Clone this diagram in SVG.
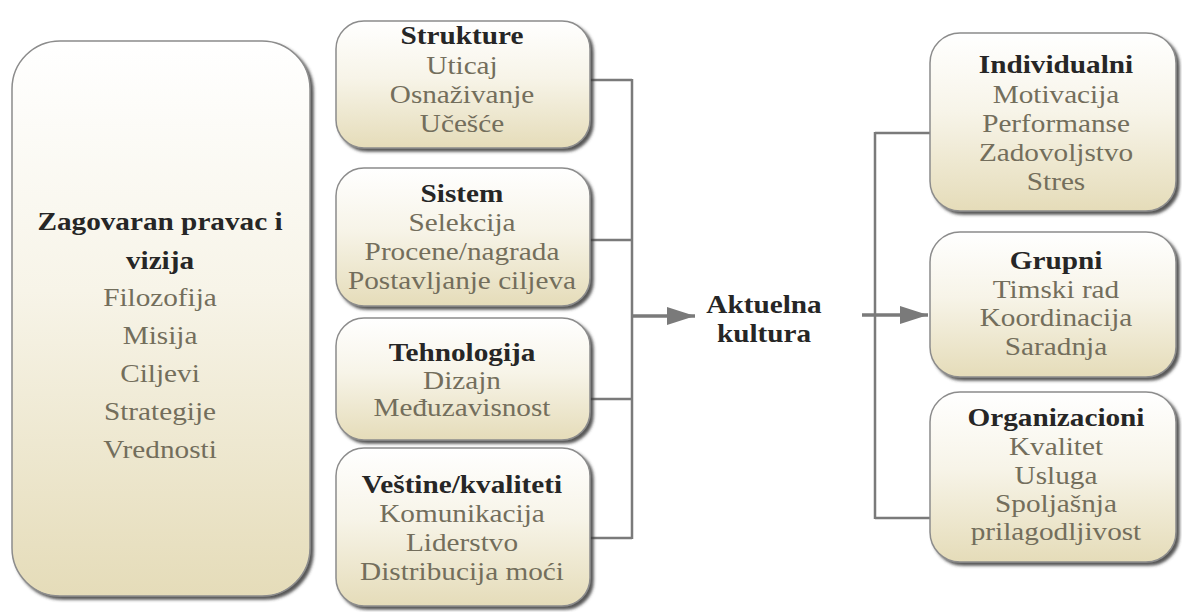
<svg xmlns="http://www.w3.org/2000/svg" width="1182" height="612" viewBox="0 0 1182 612">
  <defs>
    <linearGradient id="boxFill" x1="0" y1="0" x2="0" y2="1">
      <stop offset="0" stop-color="#ffffff"/>
      <stop offset="0.45" stop-color="#f7f4e8"/>
      <stop offset="1" stop-color="#e5dcb9"/>
    </linearGradient>
    <filter id="shadow" x="-10%" y="-10%" width="125%" height="125%">
      <feDropShadow dx="3" dy="3" stdDeviation="1.4" flood-color="#3a3a3a" flood-opacity="0.85"/>
    </filter>
    <marker id="arrow" viewBox="0 0 10 10" refX="10" refY="5" markerWidth="9" markerHeight="7" markerUnits="userSpaceOnUse" orient="auto">
      <path d="M0,0 L10,5 L0,10 z" fill="#7a7a7a"/>
    </marker>
    <marker id="head" viewBox="0 0 28 20" refX="28" refY="10" markerWidth="28" markerHeight="20" markerUnits="userSpaceOnUse" orient="auto">
      <path d="M0,1 L28,10 L0,19 z" fill="#7a7a7a"/>
    </marker>
  </defs>
  <style>
    .box { fill: url(#boxFill); stroke: #8c8c8c; stroke-width: 1.5; filter: url(#shadow); }
    text { font-family: "Liberation Serif", "Times New Roman", serif; font-size: 25px; text-anchor: middle; }
    .title { font-weight: bold; fill: #262626; }
    .item { fill: #736e5c; }
    .link { fill: none; stroke: #7a7a7a; stroke-width: 2.5; }
    .arrowline { fill: none; stroke: #7a7a7a; stroke-width: 3.5; marker-end: url(#head); }
  </style>

  <rect width="1182" height="612" fill="#ffffff"/>

  <!-- connectors -->
  <g id="connectors">
    <path class="link" d="M590,80 H632 M590,240 H632 M590,399 H632 M590,538 H632 M632,79 V539"/>
    <path class="arrowline" d="M632,316 H695"/>
    <path class="link" d="M875,133 H930 M875,518 H932 M875,132 V519"/>
    <path class="arrowline" d="M862,315 H928"/>
  </g>

  <!-- left column -->
  <g id="node-vizija">
    <rect class="box" x="12" y="41" width="298" height="555" rx="48"/>
    <g transform="translate(160 0) scale(1.17 1)">
      <text class="title" x="0" y="230">Zagovaran pravac i</text>
      <text class="title" x="0" y="269">vizija</text>
      <text class="item" x="0" y="306">Filozofija</text>
      <text class="item" x="0" y="344">Misija</text>
      <text class="item" x="0" y="382">Ciljevi</text>
      <text class="item" x="0" y="420">Strategije</text>
      <text class="item" x="0" y="458">Vrednosti</text>
    </g>
  </g>

  <!-- middle column -->
  <g id="node-strukture">
    <rect class="box" x="336" y="21" width="254" height="127" rx="28"/>
    <g transform="translate(462 0) scale(1.17 1)">
      <text class="title" x="0" y="44">Strukture</text>
      <text class="item" x="0" y="74">Uticaj</text>
      <text class="item" x="0" y="103">Osnaživanje</text>
      <text class="item" x="0" y="132">Učešće</text>
    </g>
  </g>

  <g id="node-sistem">
    <rect class="box" x="336" y="168" width="254" height="138" rx="28"/>
    <g transform="translate(462 0) scale(1.17 1)">
      <text class="title" x="0" y="202">Sistem</text>
      <text class="item" x="0" y="231">Selekcija</text>
      <text class="item" x="0" y="260">Procene/nagrada</text>
      <text class="item" x="0" y="289">Postavljanje ciljeva</text>
    </g>
  </g>

  <g id="node-tehnologija">
    <rect class="box" x="336" y="318" width="254" height="122" rx="28"/>
    <g transform="translate(462 0) scale(1.17 1)">
      <text class="title" x="0" y="361">Tehnologija</text>
      <text class="item" x="0" y="389">Dizajn</text>
      <text class="item" x="0" y="416">Međuzavisnost</text>
    </g>
  </g>

  <g id="node-vestine">
    <rect class="box" x="336" y="448" width="254" height="158" rx="28"/>
    <g transform="translate(462 0) scale(1.17 1)">
      <text class="title" x="0" y="493">Veštine/kvaliteti</text>
      <text class="item" x="0" y="522">Komunikacija</text>
      <text class="item" x="0" y="551">Liderstvo</text>
      <text class="item" x="0" y="580">Distribucija moći</text>
    </g>
  </g>

  <!-- centre label -->
  <g id="node-kultura">
    <g transform="translate(764 0) scale(1.17 1)">
      <text class="title" x="0" y="313">Aktuelna</text>
      <text class="title" x="0" y="342">kultura</text>
    </g>
  </g>

  <!-- right column -->
  <g id="node-individualni">
    <rect class="box" x="930" y="33" width="246" height="178" rx="30"/>
    <g transform="translate(1056 0) scale(1.17 1)">
      <text class="title" x="0" y="73">Individualni</text>
      <text class="item" x="0" y="103">Motivacija</text>
      <text class="item" x="0" y="132">Performanse</text>
      <text class="item" x="0" y="161">Zadovoljstvo</text>
      <text class="item" x="0" y="190">Stres</text>
    </g>
  </g>

  <g id="node-grupni">
    <rect class="box" x="930" y="232" width="246" height="145" rx="30"/>
    <g transform="translate(1056 0) scale(1.17 1)">
      <text class="title" x="0" y="269">Grupni</text>
      <text class="item" x="0" y="298">Timski rad</text>
      <text class="item" x="0" y="326">Koordinacija</text>
      <text class="item" x="0" y="355">Saradnja</text>
    </g>
  </g>

  <g id="node-organizacioni">
    <rect class="box" x="930" y="392" width="246" height="170" rx="30"/>
    <g transform="translate(1056 0) scale(1.17 1)">
      <text class="title" x="0" y="426">Organizacioni</text>
      <text class="item" x="0" y="455">Kvalitet</text>
      <text class="item" x="0" y="484">Usluga</text>
      <text class="item" x="0" y="512">Spoljašnja</text>
      <text class="item" x="0" y="540">prilagodljivost</text>
    </g>
  </g>
</svg>
